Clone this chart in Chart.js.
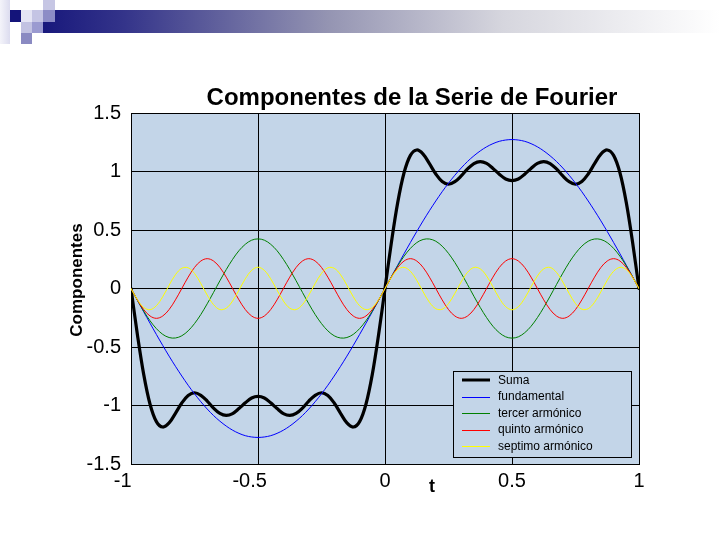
<!DOCTYPE html>
<html><head><meta charset="utf-8">
<script src="https://cdn.jsdelivr.net/npm/chart.js@4.4.1/dist/chart.umd.min.js"></script>
<style>html,body{margin:0;padding:0;background:#fff}canvas{display:block}</style>
</head><body>
<canvas id="c" width="720" height="540"></canvas>
<script>
const t = [-1,-0.975,-0.95,-0.925,-0.9,-0.875,-0.85,-0.825,-0.8,-0.775,-0.75,-0.725,-0.7,-0.675,-0.65,-0.625,-0.6,-0.575,-0.55,-0.525,-0.5,
-0.475,-0.45,-0.425,-0.4,-0.375,-0.35,-0.325,-0.3,-0.275,-0.25,-0.225,-0.2,-0.175,-0.15,-0.125,-0.1,-0.075,-0.05,-0.025,0,
0.025,0.05,0.075,0.1,0.125,0.15,0.175,0.2,0.225,0.25,0.275,0.3,0.325,0.35,0.375,0.4,0.425,0.45,0.475,0.5,
0.525,0.55,0.575,0.6,0.625,0.65,0.675,0.7,0.725,0.75,0.775,0.8,0.825,0.85,0.875,0.9,0.925,0.95,0.975,1];

const suma = [0,-0.391,-0.734,-0.989,-1.138,-1.184,-1.149,-1.067,-0.979,-0.915,-0.891,-0.913,-0.962,-1.022,-1.068,-1.085,-1.069,-1.026,-0.977,-0.936,-0.922,
-0.936,-0.977,-1.026,-1.069,-1.085,-1.068,-1.022,-0.962,-0.913,-0.891,-0.915,-0.979,-1.067,-1.149,-1.184,-1.138,-0.989,-0.734,-0.391,0,
0.391,0.734,0.989,1.138,1.184,1.149,1.067,0.979,0.915,0.891,0.913,0.962,1.022,1.068,1.085,1.069,1.026,0.977,0.936,0.922,
0.936,0.977,1.026,1.069,1.085,1.068,1.022,0.962,0.913,0.891,0.915,0.979,1.067,1.149,1.184,1.138,0.989,0.734,0.391,0];

const fundamental = [0,-0.100,-0.199,-0.297,-0.393,-0.487,-0.578,-0.665,-0.748,-0.827,-0.900,-0.968,-1.030,-1.086,-1.134,-1.176,-1.211,-1.238,-1.258,-1.269,-1.273,
-1.269,-1.258,-1.238,-1.211,-1.176,-1.134,-1.086,-1.030,-0.968,-0.900,-0.827,-0.748,-0.665,-0.578,-0.487,-0.393,-0.297,-0.199,-0.100,0,
0.100,0.199,0.297,0.393,0.487,0.578,0.665,0.748,0.827,0.900,0.968,1.030,1.086,1.134,1.176,1.211,1.238,1.258,1.269,1.273,
1.269,1.258,1.238,1.211,1.176,1.134,1.086,1.030,0.968,0.900,0.827,0.748,0.665,0.578,0.487,0.393,0.297,0.199,0.100,0];

const tercer = [0,-0.099,-0.193,-0.276,-0.343,-0.392,-0.419,-0.423,-0.404,-0.362,-0.300,-0.222,-0.131,-0.033,0.066,0.162,0.249,0.323,0.378,0.413,0.424,
0.413,0.378,0.323,0.249,0.162,0.066,-0.033,-0.131,-0.222,-0.300,-0.362,-0.404,-0.423,-0.419,-0.392,-0.343,-0.276,-0.193,-0.099,0,
0.099,0.193,0.276,0.343,0.392,0.419,0.423,0.404,0.362,0.300,0.222,0.131,0.033,-0.066,-0.162,-0.249,-0.323,-0.378,-0.413,-0.424,
-0.413,-0.378,-0.323,-0.249,-0.162,-0.066,0.033,0.131,0.222,0.300,0.362,0.404,0.423,0.419,0.392,0.343,0.276,0.193,0.099,0];

const quinto = [0,-0.097,-0.180,-0.235,-0.255,-0.235,-0.180,-0.097,0,0.097,0.180,0.235,0.255,0.235,0.180,0.097,0,-0.097,-0.180,-0.235,-0.255,
-0.235,-0.180,-0.097,0,0.097,0.180,0.235,0.255,0.235,0.180,0.097,0,-0.097,-0.180,-0.235,-0.255,-0.235,-0.180,-0.097,0,
0.097,0.180,0.235,0.255,0.235,0.180,0.097,0,-0.097,-0.180,-0.235,-0.255,-0.235,-0.180,-0.097,0,0.097,0.180,0.235,0.255,
0.235,0.180,0.097,0,-0.097,-0.180,-0.235,-0.255,-0.235,-0.180,-0.097,0,0.097,0.180,0.235,0.255,0.235,0.180,0.097,0];

const septimo = [0,-0.095,-0.162,-0.181,-0.147,-0.070,0.028,0.118,0.173,0.177,0.129,0.042,-0.056,-0.138,-0.180,-0.168,-0.107,-0.014,0.083,0.155,0.182,
0.155,0.083,-0.014,-0.107,-0.168,-0.180,-0.138,-0.056,0.042,0.129,0.177,0.173,0.118,0.028,-0.070,-0.147,-0.181,-0.162,-0.095,0,
0.095,0.162,0.181,0.147,0.070,-0.028,-0.118,-0.173,-0.177,-0.129,-0.042,0.056,0.138,0.180,0.168,0.107,0.014,-0.083,-0.155,-0.182,
-0.155,-0.083,0.014,0.107,0.168,0.180,0.138,0.056,-0.042,-0.129,-0.177,-0.173,-0.118,-0.028,0.070,0.147,0.181,0.162,0.095,0];

const seriesNames = ['Suma','fundamental','tercer armónico','quinto armónico','septimo armónico'];
const xTicks = [-1,-0.5,0,0.5,1];
const yTicks = [-1.5,-1,-0.5,0,0.5,1,1.5];
const chartTitle = 'Componentes de la Serie de Fourier';
const yTitle = 'Componentes';
const xTitle = 't';

const FONT = '"Liberation Sans", Arial, Helvetica, sans-serif';
const PLOT_BG = '#c3d5e8';
const colors = ['#000000','#0000ff','#008000','#ff0000','#ffff00'];
const widths = [3.2,1,1,1,1];
const seriesData = [suma, fundamental, tercer, quinto, septimo];

const datasets = seriesData.map((arr, k) => ({
  label: seriesNames[k],
  data: arr.map((y, i) => ({x: t[i], y: y})),
  borderColor: colors[k],
  borderWidth: widths[k],
  pointRadius: 0,
  tension: 0.35,
  fill: false,
  borderJoinStyle: 'round',
  borderCapStyle: 'round',
  order: 4 - k
}));

const decoPlugin = {
  id: 'deco',
  beforeDraw(chart) {
    const ctx = chart.ctx;
    ctx.save();
    ctx.fillStyle = '#ffffff';
    ctx.fillRect(0, 0, chart.width, chart.height);
    const lg = ctx.createLinearGradient(0, 0, 10, 0);
    lg.addColorStop(0, '#f4f4fa'); lg.addColorStop(1, '#dcdcef');
    ctx.fillStyle = lg; ctx.fillRect(0, 0, 10, 44);
    const g = ctx.createLinearGradient(43, 0, 720, 0);
    g.addColorStop(0, '#18187c');
    g.addColorStop(0.12, '#34348a');
    g.addColorStop(0.42, '#9494b2');
    g.addColorStop(0.68, '#d6d6de');
    g.addColorStop(1, '#ffffff');
    ctx.fillStyle = g;
    ctx.fillRect(43, 10, 677, 23);
    const sq = [
      [10,10,11,12,'#14147a'],
      [21,10,11,12,'#e4e4f4'],
      [32,10,11,12,'#c4c4e4'],
      [43,0,12,10,'#c6c6e4'],
      [43,10,12,12,'#8c8cc6'],
      [21,22,11,11,'#c2c2e2'],
      [32,22,11,11,'#9a9ad0'],
      [21,33,11,11,'#8a8ac2']
    ];
    sq.forEach(s => { ctx.fillStyle = s[4]; ctx.fillRect(s[0], s[1], s[2], s[3]); });
    const a = chart.chartArea;
    ctx.fillStyle = PLOT_BG;
    ctx.fillRect(a.left, a.top, a.right - a.left, a.bottom - a.top);
    ctx.restore();
  },
  afterDraw(chart) {
    const ctx = chart.ctx;
    ctx.save();
    ctx.fillStyle = '#000';
    ctx.font = 'bold 24px ' + FONT;
    ctx.textAlign = 'center';
    ctx.textBaseline = 'middle';
    ctx.fillText(chartTitle, 412, 98);
    ctx.font = 'bold 18px ' + FONT;
    ctx.fillText(xTitle, 432, 487);
    ctx.save();
    ctx.translate(77, 280);
    ctx.rotate(-Math.PI / 2);
    ctx.font = 'bold 17px ' + FONT;
    ctx.fillText(yTitle, 0, 0);
    ctx.restore();
    const lx = 453, ly = 371, lw = 178, lh = 86;
    ctx.fillStyle = PLOT_BG;
    ctx.fillRect(lx, ly, lw, lh);
    ctx.strokeStyle = '#000'; ctx.lineWidth = 1;
    ctx.strokeRect(lx + 0.5, ly + 0.5, lw, lh);
    const rows = [380, 396.5, 413, 429.5, 446];
    ctx.font = '12px ' + FONT;
    ctx.textAlign = 'left';
    ctx.textBaseline = 'middle';
    seriesNames.forEach((name, k) => {
      ctx.strokeStyle = colors[k];
      ctx.lineWidth = k === 0 ? 3 : 1;
      ctx.beginPath();
      const yy = k === 0 ? Math.round(rows[k]) : Math.round(rows[k]) + 0.5;
      ctx.moveTo(462, yy); ctx.lineTo(490, yy);
      ctx.stroke();
      ctx.fillStyle = '#000';
      ctx.fillText(name, 498, rows[k] + 0.5);
    });
    ctx.restore();
  }
};

new Chart(document.getElementById('c'), {
  type: 'line',
  data: { datasets },
  options: {
    responsive: false,
    animation: false,
    events: [],
    layout: { padding: { left: 0, top: 113, right: 81, bottom: 0 } },
    plugins: { legend: { display: false }, title: { display: false }, tooltip: { enabled: false } },
    scales: {
      x: {
        type: 'linear', min: -1, max: 1,
        afterFit: s => { s.height = 76; },
        afterBuildTicks: s => { s.ticks = xTicks.map(v => ({ value: v })); },
        grid: { color: '#000', lineWidth: 1, drawTicks: false },
        border: { display: true, color: '#000', width: 1 },
        ticks: {
          padding: 5, color: '#000', maxRotation: 0, autoSkip: false,
          font: { family: FONT, size: 20 },
          callback: v => (v < 0 ? String(v) + '   ' : String(v))
        }
      },
      y: {
        type: 'linear', min: -1.5, max: 1.5,
        afterFit: s => { s.width = 131; },
        afterBuildTicks: s => { s.ticks = yTicks.map(v => ({ value: v })); },
        grid: { color: '#000', lineWidth: 1, drawTicks: false },
        border: { display: true, color: '#000', width: 1 },
        ticks: {
          padding: 10, color: '#000', autoSkip: false,
          font: { family: FONT, size: 20 },
          callback: v => String(v)
        }
      }
    }
  },
  plugins: [decoPlugin]
});
</script>
</body></html>
